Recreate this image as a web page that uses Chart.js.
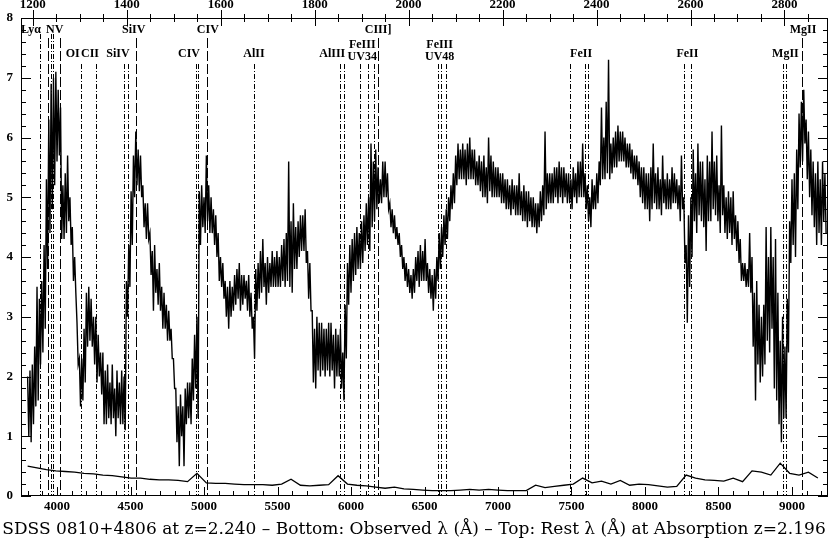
<!DOCTYPE html>
<html>
<head>
<meta charset="utf-8">
<script src="https://cdn.jsdelivr.net/npm/chart.js@4.4.0/dist/chart.umd.min.js"></script>
<style>
  html, body { margin: 0; padding: 0; background: #fff; }
</style>
</head>
<body>
<canvas id="specChart" width="830" height="542"></canvas>
<script>
// redshifts of the quasar and of the absorber
const zEm = 2.240;
const zAbs = 2.196;

// spectrum, one value every 8 A starting at 3800 A (noisy)
const waveStart = 3800;
const waveStep = 8;
const flux = [
  2.0,1.0, 2.1,0.9, 2.2,1.2, 2.5,1.5, 3.5,1.6, 3.3,2.2, 3.6,2.4, 4.2,2.8, 5.3,3.8, 6.3,4.4,
  6.9,4.8, 7.0,5.2, 7.1,5.6, 6.8,5.7, 6.5,4.3, 5.2,4.3, 5.4,4.4, 5.7,4.6, 5.0,4.2, 4.5,3.6,
  4.0,3.4, 2.9,2.2, 2.3,1.5, 2.3,1.6, 2.8,1.9, 3.4,2.5, 3.5,2.6, 3.3,2.5, 3.0,2.2, 3.0,1.9,
  2.7,2.0, 2.4,1.7, 2.4,1.2, 2.1,1.2, 2.2,1.3, 1.9,1.2, 2.2,1.3, 1.8,1.0, 2.1,1.3, 1.9,1.2,
  2.1,1.2, 2.0,1.1, 3.6,3.0, 4.2,3.5, 5.1,4.2, 5.7,5.0, 6.1,5.2, 5.8,5.1, 5.7,5.0, 5.2,4.5,
  4.9,4.3, 4.9,4.3, 4.4,3.7, 4.1,3.1, 4.2,3.4, 3.8,3.2, 3.9,3.1, 3.5,2.8, 3.4,2.8, 3.2,2.6,
  3.1,2.6, 2.8,2.3, 2.3,1.8, 1.8,0.9, 1.5,0.5, 1.7,1.0, 1.5,0.5, 1.8,1.2, 1.9,1.3, 1.9,1.2,
  2.3,1.6, 2.7,1.8, 3.0,1.3, 5.1,4.2, 5.2,4.5, 5.0,4.4, 5.7,4.6, 5.2,4.4, 5.0,4.4, 4.8,4.2,
  4.7,4.0, 4.4,3.6, 4.0,3.5, 3.9,3.3, 3.6,3.0, 3.5,2.8, 3.6,3.0, 3.5,3.1, 3.7,3.2, 3.8,3.3,
  3.9,3.1, 3.7,3.2, 3.7,3.3, 3.6,3.1, 3.7,3.0, 3.4,2.8, 3.0,2.3, 3.8,3.1, 3.9,3.3, 4.1,3.4,
  4.3,3.5, 3.9,3.2, 4.0,3.4, 3.9,3.5, 4.1,3.5, 4.0,3.5, 4.1,3.5, 4.0,3.5, 4.2,3.6, 4.3,3.5,
  4.4,3.6, 5.6,3.5, 4.6,3.4, 4.9,3.8, 4.5,3.8, 4.6,4.0, 4.7,4.1, 4.7,4.1, 4.8,3.9, 4.1,3.3,
  3.9,3.1, 3.1,1.9, 2.8,1.8, 3.0,2.1, 2.9,2.0, 2.9,2.1, 2.8,2.0, 2.8,2.1, 2.9,2.0, 2.9,2.1,
  2.7,1.8, 2.8,2.0, 2.7,2.0, 2.8,1.8, 2.4,1.6, 3.2,2.3, 3.9,3.2, 4.2,3.4, 4.3,3.6, 4.4,3.7,
  4.5,3.8, 4.4,3.8, 4.6,3.9, 4.7,4.1, 4.9,4.2, 5.0,4.1, 5.9,4.5, 5.6,4.6, 5.8,4.8, 5.5,4.9,
  5.3,4.9, 5.6,5.0, 5.6,5.0, 5.4,4.8, 4.9,4.5, 4.8,4.4, 4.7,4.3, 4.5,4.2, 4.4,4.0, 4.2,3.8,
  4.0,3.6, 3.9,3.5, 3.8,3.4, 3.7,3.3, 3.8,3.4, 4.0,3.6, 4.1,3.5, 4.2,3.6, 4.1,3.6, 4.3,3.6,
  3.9,3.4, 3.8,3.3, 3.7,3.1, 3.8,3.3, 4.0,3.6, 4.4,3.8, 4.5,4.0, 4.7,4.2, 4.8,4.3, 5.0,4.6,
  5.2,4.8, 5.4,4.9, 5.7,5.2, 5.9,5.3, 5.8,5.3, 5.9,5.3, 5.8,5.2, 5.9,5.3, 6.0,5.3, 5.8,5.3,
  5.8,5.2, 5.6,5.2, 5.7,5.1, 5.6,5.0, 5.7,5.0, 5.5,4.9, 6.0,5.1, 5.7,5.0, 5.6,5.0, 5.5,5.0,
  5.5,5.0, 5.4,4.9, 5.4,4.9, 5.3,4.8, 5.3,4.8, 5.2,4.7, 5.3,4.8, 5.2,4.7, 5.2,4.7, 5.4,4.7,
  5.1,4.6, 5.2,4.6, 5.1,4.5, 5.1,4.6, 5.0,4.5, 5.0,4.5, 4.9,4.4, 4.9,4.5, 5.1,4.6, 5.2,4.7,
  6.1,4.8, 5.4,4.9, 5.4,4.9, 5.4,4.9, 5.5,5.0, 5.5,4.9, 5.6,5.0, 5.5,4.9, 5.5,5.0, 5.4,4.9,
  5.4,4.9, 5.3,4.8, 5.5,5.0, 5.4,4.9, 5.6,5.0, 5.6,5.0, 5.9,5.0, 5.4,4.8, 5.2,4.6, 5.0,4.5,
  5.3,4.8, 5.2,4.8, 5.4,4.9, 5.6,5.2, 6.5,5.3, 6.0,5.3, 6.6,5.4, 7.3,5.3, 5.9,5.4, 6.0,5.5,
  6.1,5.5, 6.2,5.6, 6.1,5.6, 6.1,5.6, 6.0,5.5, 5.9,5.5, 5.9,5.4, 5.8,5.3, 5.7,5.3, 5.7,5.2,
  5.6,5.0, 5.5,4.9, 5.5,4.8, 5.4,4.8, 5.4,4.6, 5.5,4.8, 5.9,4.9, 5.4,4.8, 5.5,4.8, 5.3,4.7,
  5.7,4.9, 5.3,4.8, 5.4,4.8, 5.3,4.8, 5.5,4.9, 5.4,4.9, 5.3,4.8, 5.2,4.6, 5.7,4.8, 5.0,3.9,
  4.2,2.9, 4.7,3.5, 5.0,4.0, 5.8,4.6, 5.4,4.4, 5.9,4.7, 5.6,4.6, 5.6,4.5, 5.3,4.1, 5.7,4.6,
  5.6,4.6, 6.1,4.8, 5.6,4.7, 5.7,4.6, 5.2,4.4, 6.2,4.7, 5.2,4.4, 5.0,4.3, 5.1,4.4, 5.0,4.2,
  5.1,4.3, 4.7,4.1, 4.6,3.9, 4.3,3.6, 3.9,3.6, 3.9,3.5, 3.8,3.5, 4.4,3.4, 4.0,2.5, 3.4,1.6,
  3.6,2.2, 3.2,1.9, 3.0,2.0, 3.2,2.2, 4.5,2.6, 4.0,2.4, 4.5,2.8, 4.0,1.8, 4.3,1.6, 3.4,1.2,
  2.6,0.9, 3.0,1.3, 2.5,1.3, 3.3,2.4, 4.6,3.9, 5.3,4.2, 5.4,4.0, 5.8,4.8, 6.4,5.5, 6.6,5.6,
  6.8,5.9, 6.3,5.3, 6.1,5.0, 5.8,4.7, 5.6,4.5, 5.4,4.2, 5.6,4.4, 5.3,4.2, 5.6,4.6, 5.4,4.4
];

// error spectrum, one value every 64 A starting at 3800 A
const errStart = 3800;
const errStep = 64;
const fluxErr = [
  0.50,0.47,0.44,0.42,0.41,0.40,0.38,0.37,0.35,0.34,
  0.32,0.30,0.30,0.28,0.27,0.27,0.26,0.24,0.38,0.22,
  0.21,0.21,0.20,0.19,0.19,0.19,0.18,0.20,0.28,0.18,
  0.17,0.18,0.19,0.34,0.20,0.18,0.17,0.15,0.13,0.15,
  0.12,0.11,0.10,0.09,0.09,0.09,0.10,0.11,0.10,0.11,
  0.10,0.09,0.09,0.09,0.18,0.14,0.16,0.18,0.20,0.30,
  0.22,0.25,0.20,0.26,0.18,0.20,0.19,0.17,0.15,0.16,
  0.35,0.30,0.27,0.26,0.25,0.30,0.24,0.42,0.40,0.35,
  0.55,0.38,0.35,0.40,0.30
];

// tick labels
const yTicks = [0, 1, 2, 3, 4, 5, 6, 7, 8];
const bottomTicks = [4000, 4500, 5000, 5500, 6000, 6500, 7000, 7500, 8000, 8500, 9000];
const topTicks = [1200, 1400, 1600, 1800, 2000, 2200, 2400, 2600, 2800];

// emission lines at zEm (rest A)
const emNames = ['Ly\u03b1', 'NV', 'SiIV', 'CIV', 'CIII]', 'MgII'];
const emRest = [1215.67, 1240.15, 1399.8, 1549.06, 1908.73, 2798.75];

// absorption lines at zAbs (rest A)
const absNames = ['', '', 'OI', 'CII', 'SiIV', 'CIV', 'AlII', 'AlIII', 'FeIII\nUV34', 'FeIII\nUV48', 'FeII', 'FeII', 'MgII'];
const absRest = [
  [1215.67], [1238.82, 1242.80], [1302.17], [1334.53], [1393.76, 1402.77],
  [1548.20, 1550.78], [1670.79], [1854.72, 1862.79], [1895.46, 1914.06, 1926.30],
  [2062.21, 2068.90, 2079.65], [2344.21, 2374.46, 2382.77], [2586.65, 2600.17],
  [2796.35, 2803.53]
];

// label nudges in pixels (style only)
const emNudge = [-17, -5, -2, 1, 0, 1];
const absNudge = [0, 0, -8, -6, -8, -8, 0, -10, -5, -2, 0, 0, 1];

const titleText = 'SDSS 0810+4806 at z=2.240 \u2013 Bottom: Observed \u03bb (\u00c5) \u2013 Top: Rest \u03bb (\u00c5) at Absorption z=2.196';

const xMin = 3755;
const xMax = 9245;
const labelFont = 'bold 12px "Liberation Serif"';

const specPoints = flux.map((f, i) => ({x: waveStart + i * waveStep, y: f}));
const errPoints = fluxErr.map((e, i) => ({x: errStart + i * errStep, y: e}));

const vline = (ctx, px, y0, y1) => {
  ctx.beginPath();
  ctx.moveTo(px, y0);
  ctx.lineTo(px, y1);
  ctx.stroke();
};

const decor = {
  id: 'decor',
  beforeDatasetsDraw(chart) {
    const {ctx, chartArea: a, scales: {x}} = chart;
    ctx.save();
    ctx.strokeStyle = '#000';
    ctx.lineWidth = 1;
    ctx.setLineDash([10, 3]);
    emRest.forEach(r => {
      const px = Math.round(x.getPixelForValue(r * (1 + zEm))) + 0.5;
      vline(ctx, px, a.top + 20, a.bottom);
    });
    ctx.setLineDash([5, 2, 1, 2]);
    absRest.forEach((grp, k) => {
      grp.forEach(r => {
        const px = Math.round(x.getPixelForValue(r * (1 + zAbs))) + 0.5;
        vline(ctx, px, a.top + (absNames[k] ? 46 : 16), a.bottom);
      });
    });
    ctx.restore();
  },
  afterDraw(chart) {
    const {ctx, chartArea: a, scales: {x, xTop, y}} = chart;
    ctx.save();
    ctx.strokeStyle = '#000';
    ctx.fillStyle = '#000';
    ctx.lineWidth = 1;
    ctx.strokeRect(a.left + 0.5, a.top + 0.5, a.right - a.left - 1, a.bottom - a.top - 1);

    // bottom ticks, every 100 A observed
    for (let w = 3800; w <= 9200; w += 100) {
      const px = Math.round(x.getPixelForValue(w)) + 0.5;
      vline(ctx, px, a.bottom, a.bottom - (w % 500 === 0 ? 9 : 5));
    }
    // top ticks, every 50 A rest, crossing the axis
    for (let r = 1200; r <= 2850; r += 50) {
      const px = Math.round(xTop.getPixelForValue(r)) + 0.5;
      const len = r % 200 === 0 ? 8 : 4;
      vline(ctx, px, a.top - len, a.top + len);
    }
    // left and right ticks, every 0.2
    for (let k = 0; k <= 40; k++) {
      const py = Math.round(y.getPixelForValue(k * 0.2)) + 0.5;
      const len = k % 5 === 0 ? 10 : 5;
      ctx.beginPath();
      ctx.moveTo(a.left, py); ctx.lineTo(a.left + len, py);
      ctx.moveTo(a.right, py); ctx.lineTo(a.right - len, py);
      ctx.stroke();
    }

    // bottom tick labels
    ctx.font = 'bold 13px "Liberation Serif"';
    ctx.textAlign = 'center';
    ctx.textBaseline = 'middle';
    bottomTicks.forEach(w => ctx.fillText(String(w), x.getPixelForValue(w), a.bottom + 11));

    // line labels
    ctx.font = labelFont;
    emNames.forEach((n, k) => {
      const px = x.getPixelForValue(emRest[k] * (1 + zEm)) + emNudge[k];
      ctx.fillText(n, px, a.top + 12);
    });
    absNames.forEach((n, k) => {
      if (!n) return;
      const grp = absRest[k];
      const mean = grp.reduce((s, r) => s + x.getPixelForValue(r * (1 + zAbs)), 0) / grp.length;
      const parts = n.split('\n');
      if (parts.length === 2) {
        ctx.fillText(parts[0], mean + absNudge[k], a.top + 27);
        ctx.fillText(parts[1], mean + absNudge[k], a.top + 39);
      } else {
        ctx.fillText(n, mean + absNudge[k], a.top + 36);
      }
    });
    ctx.restore();
  }
};

const tickFont = {family: 'Liberation Serif', size: 13, weight: 'bold'};

new Chart(document.getElementById('specChart'), {
  type: 'line',
  data: {
    datasets: [
      {
        label: 'flux',
        data: specPoints,
        borderColor: '#000',
        borderWidth: 1.4,
        pointRadius: 0,
        tension: 0,
        xAxisID: 'x',
        yAxisID: 'y'
      },
      {
        label: 'error',
        data: errPoints,
        borderColor: '#000',
        borderWidth: 1.3,
        pointRadius: 0,
        tension: 0,
        xAxisID: 'x',
        yAxisID: 'y'
      }
    ]
  },
  options: {
    responsive: false,
    animation: false,
    devicePixelRatio: 1,
    layout: {padding: {left: 0, right: 2, top: 0, bottom: 0}},
    plugins: {
      legend: {display: false},
      tooltip: {enabled: false},
      title: {
        display: true,
        position: 'bottom',
        text: titleText,
        color: '#000',
        font: {family: 'DejaVu Serif', size: 17, weight: 'normal'},
        padding: {top: 8, bottom: 2}
      }
    },
    scales: {
      x: {
        type: 'linear',
        position: 'bottom',
        min: xMin,
        max: xMax,
        grid: {display: false, drawTicks: false},
        border: {display: false},
        ticks: {display: false},
        afterFit(s) { s.height = 15.6; }
      },
      xTop: {
        type: 'linear',
        position: 'top',
        min: xMin / (1 + zAbs),
        max: xMax / (1 + zAbs),
        grid: {display: false, drawTicks: false},
        border: {display: false},
        ticks: {
          stepSize: 200,
          includeBounds: false,
          autoSkip: false,
          maxRotation: 0,
          padding: 6,
          color: '#000',
          font: tickFont,
          callback: v => topTicks.includes(v) ? String(v) : ''
        },
        afterFit(s) { s.height = 18; }
      },
      y: {
        min: 0,
        max: 8,
        grid: {display: false, drawTicks: false},
        border: {display: false},
        ticks: {
          stepSize: 1,
          padding: 8,
          color: '#000',
          font: tickFont,
          callback: v => yTicks.includes(v) ? String(v) : ''
        },
        afterFit(s) { s.width = 21; }
      }
    }
  },
  plugins: [decor]
});
</script>
</body>
</html>
